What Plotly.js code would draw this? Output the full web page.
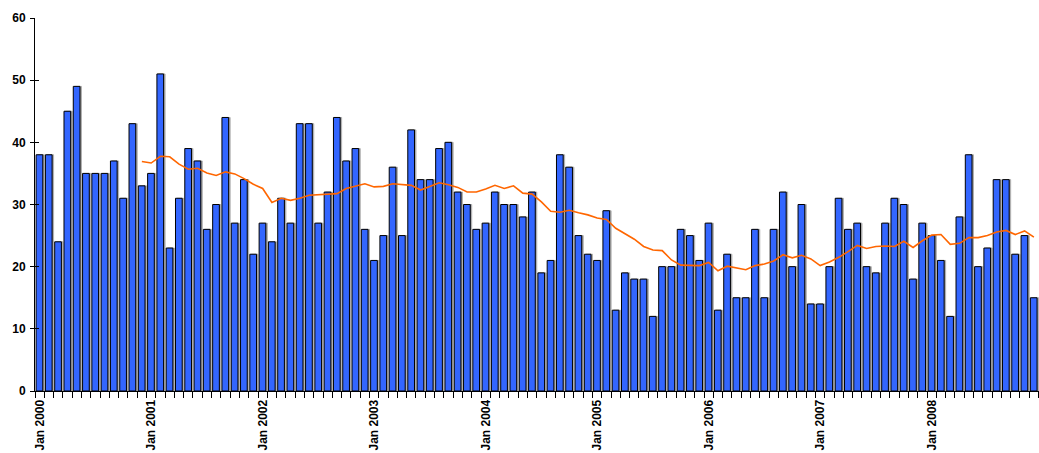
<!DOCTYPE html>
<html>
<head>
<meta charset="utf-8">
<script src="https://cdn.plot.ly/plotly-3.0.1.min.js"></script>
<style>
  html, body { margin: 0; padding: 0; overflow: hidden; background: #fff; }
  #chart { width: 1039px; height: 453px; }
</style>
</head>
<body>
<div id="chart"></div>
<script>
// ---- data ----
const monthNames = ["Jan","Feb","Mar","Apr","May","Jun","Jul","Aug","Sep","Oct","Nov","Dec"];
const years = [2000, 2001, 2002, 2003, 2004, 2005, 2006, 2007, 2008];

const values2000 = [38, 38, 24, 45, 49, 35, 35, 35, 37, 31, 43, 33];
const values2001 = [35, 51, 23, 31, 39, 37, 26, 30, 44, 27, 34, 22];
const values2002 = [27, 24, 31, 27, 43, 43, 27, 32, 44, 37, 39, 26];
const values2003 = [21, 25, 36, 25, 42, 34, 34, 39, 40, 32, 30, 26];
const values2004 = [27, 32, 30, 30, 28, 32, 19, 21, 38, 36, 25, 22];
const values2005 = [21, 29, 13, 19, 18, 18, 12, 20, 20, 26, 25, 21];
const values2006 = [27, 13, 22, 15, 15, 26, 15, 26, 32, 20, 30, 14];
const values2007 = [14, 20, 31, 26, 27, 20, 19, 27, 31, 30, 18, 27];
const values2008 = [25, 21, 12, 28, 38, 20, 23, 34, 34, 22, 25, 15];

// 12-month average line (Dec 2000 .. Dec 2008)
const movingAvg = [
  36.92,
  36.67, 37.75, 37.67, 36.50, 35.67, 35.83, 35.08, 34.67, 35.25, 34.92, 34.17, 33.25,
  32.58, 30.33, 31.00, 30.67, 31.00, 31.50, 31.58, 31.75, 31.75, 32.58, 33.00, 33.33,
  32.83, 32.92, 33.33, 33.17, 33.08, 32.33, 32.92, 33.50, 33.17, 32.75, 32.00, 32.00,
  32.50, 33.08, 32.58, 33.00, 31.83, 31.67, 30.42, 28.92, 28.75, 29.08, 28.67, 28.33,
  27.83, 27.58, 26.17, 25.25, 24.42, 23.25, 22.67, 22.58, 21.08, 20.25, 20.25, 20.17,
  20.67, 19.33, 20.08, 19.75, 19.50, 20.17, 20.42, 20.92, 21.92, 21.42, 21.83, 21.25,
  20.17, 20.75, 21.50, 22.42, 23.42, 22.92, 23.25, 23.33, 23.25, 24.08, 23.08, 24.17,
  25.08, 25.17, 23.58, 23.75, 24.67, 24.67, 25.00, 25.58, 25.83, 25.17, 25.75, 24.75
];

// ---- build arrays for the library ----
const categories = [];
years.forEach(y => monthNames.forEach(m => categories.push(m + " " + y)));
const values = [].concat(values2000, values2001, values2002, values2003, values2004,
                         values2005, values2006, values2007, values2008);
const tickText = categories.map(c => c.startsWith("Jan") ? c : "");
const avgCategories = categories.slice(categories.length - movingAvg.length);

const barColor = "#3366ff";
const yFont = {family: "Liberation Sans, Arial, sans-serif", size: 12, color: "#000", weight: "bold"};
const xFont = {family: "Liberation Sans, Arial, sans-serif", size: 12, color: "#000", weight: "bold"};

const traces = [
  { // soft grey shadow behind each bar
    type: "bar", x: categories, y: values,
    width: 0.72, offset: -0.22,
    marker: {color: "#a0a0a0", line: {color: "#b0b0b0", width: 1}},
    hoverinfo: "skip", showlegend: false
  },
  {
    type: "bar", x: categories, y: values,
    width: 0.72, offset: -0.38,
    marker: {color: barColor, line: {color: "#000", width: 1}},
    showlegend: false
  },
  {
    type: "scatter", mode: "lines", x: avgCategories, y: movingAvg,
    line: {color: "#ff6600", width: 1.6},
    showlegend: false
  },
  { // invisible helper so the inner half of the y ticks is drawn
    type: "scatter", mode: "none", x: [categories[0]], y: [0],
    yaxis: "y2", hoverinfo: "skip", showlegend: false
  }
];

const layout = {
  width: 1039, height: 453,
  margin: {l: 35, r: 0, t: 18, b: 62},
  paper_bgcolor: "#fff", plot_bgcolor: "rgba(0,0,0,0)",
  barmode: "overlay",
  showlegend: false,
  xaxis: {
    type: "category",
    categoryorder: "array", categoryarray: categories,
    range: [-0.5, 107.55],
    tickmode: "array", tickvals: categories, ticktext: tickText,
    tickson: "boundaries",
    ticks: "outside", ticklen: 6, tickcolor: "#000", tickwidth: 1,
    tickangle: -90,
    ticklabelstandoff: 3,
    tickfont: xFont,
    showline: true, linecolor: "#000", linewidth: 1,
    showgrid: false, zeroline: false
  },
  yaxis: {
    range: [0, 60], dtick: 10, tick0: 0,
    ticks: "outside", ticklen: 4, tickcolor: "#000", tickwidth: 1,
    ticklabelstandoff: 2,
    tickfont: yFont,
    showline: true, linecolor: "#000", linewidth: 1,
    showgrid: false, zeroline: false
  },
  yaxis2: {
    overlaying: "y", side: "left",
    range: [0, 60], dtick: 10, tick0: 0,
    ticks: "inside", ticklen: 4, tickcolor: "#000", tickwidth: 1,
    showticklabels: false, showline: false, showgrid: false, zeroline: false
  }
};

Plotly.newPlot("chart", traces, layout, {displayModeBar: false, staticPlot: true});
</script>
</body>
</html>
